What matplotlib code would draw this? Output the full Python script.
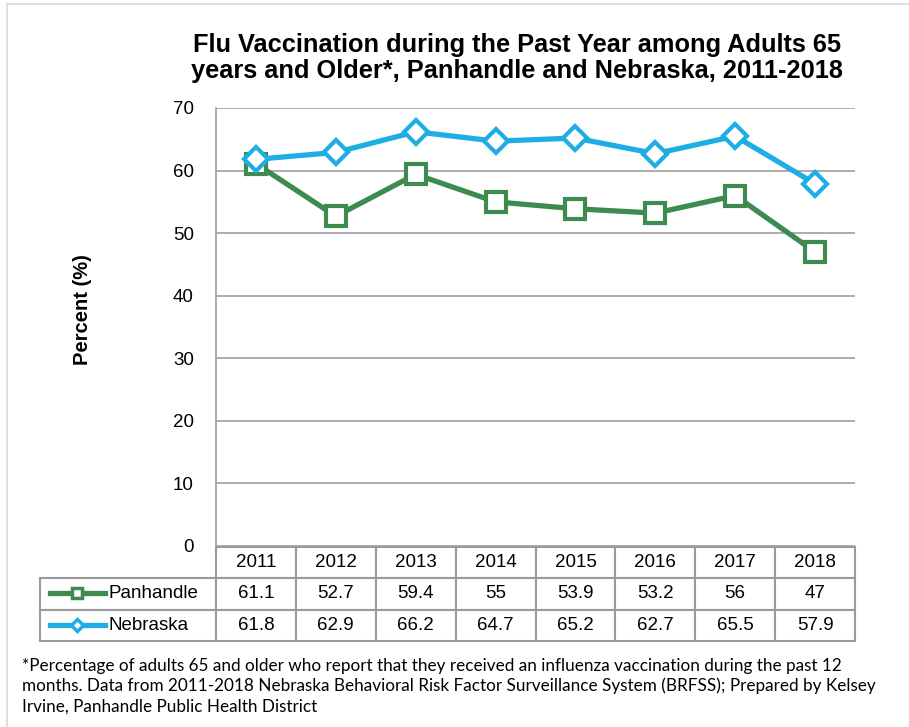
import matplotlib
matplotlib.use("Agg")
import matplotlib.pyplot as plt
from matplotlib.lines import Line2D
from matplotlib.patches import Rectangle

years = ["2011", "2012", "2013", "2014", "2015", "2016", "2017", "2018"]
panhandle = [61.1, 52.7, 59.4, 55, 53.9, 53.2, 56, 47]
nebraska = [61.8, 62.9, 66.2, 64.7, 65.2, 62.7, 65.5, 57.9]
series_names = ["Panhandle", "Nebraska"]
yticks = [0, 10, 20, 30, 40, 50, 60, 70]

title = "Flu Vaccination during the Past Year among Adults 65\nyears and Older*, Panhandle and Nebraska, 2011-2018"
footnote = ("*Percentage of adults 65 and older who report that they received an influenza vaccination during the past 12\n"
            "months. Data from 2011-2018 Nebraska Behavioral Risk Factor Surveillance System (BRFSS); Prepared by Kelsey\n"
            "Irvine, Panhandle Public Health District")

GREEN = "#3D8B4F"
BLUE = "#1EAEE4"
GRID = "#A6A6A6"

plt.rcParams['font.family'] = ['Liberation Sans', 'DejaVu Sans']

W, H = 909, 727
fig = plt.figure(figsize=(W / 100, H / 100), dpi=100)

def fx(px):
    return px / W

def fy(py):
    return 1 - py / H

# outer frame
fig.patches.append(Rectangle((fx(7), fy(740)), fx(930), fy(4) - fy(740), transform=fig.transFigure,
                             fill=False, edgecolor="#D9D9D9", linewidth=1.2))

ax_l, ax_r, ax_t, ax_b = 216, 855, 108, 546
ax = fig.add_axes([fx(ax_l), fy(ax_b), fx(ax_r - ax_l), fy(ax_t) - fy(ax_b)])

x = list(range(len(years)))
ax.plot(x, panhandle, color=GREEN, lw=3.8, marker="s", markersize=14, markerfacecolor="white",
        markeredgecolor=GREEN, markeredgewidth=3, zorder=3, solid_joinstyle="round")
ax.plot(x, nebraska, color=BLUE, lw=3.8, marker="D", markersize=12, markerfacecolor="white",
        markeredgecolor=BLUE, markeredgewidth=3, zorder=4, solid_joinstyle="round")

ax.set_xlim(-0.5, len(years) - 0.5)
ax.set_ylim(0, 70)
ax.set_yticks(yticks)
ax.set_yticklabels([str(v) for v in yticks], fontsize=13.5)
ax.tick_params(axis="y", length=0, pad=16)
ax.set_xticks([])
ax.grid(axis="y", color=GRID, linewidth=1.3)
ax.set_axisbelow(True)
for s in ["top", "right", "bottom"]:
    ax.spines[s].set_visible(False)
ax.spines["left"].set_color(GRID)
ax.spines["left"].set_linewidth(1.3)

fig.text(fx(83), fy(310), "Percent (%)", rotation=90, ha="center", va="center",
         fontsize=14.5, fontweight="bold")
fig.text(fx(517), fy(58), title, ha="center", va="center", fontsize=18.3, fontweight="bold",
         linespacing=1.08)

# data table
tab_l, tab_t, tab_b = 40, 547, 641
axw = ax_r - ax_l
axh = ax_b - ax_t
cell_text = [[""] + years,
             [""] + [f"{v:g}" for v in panhandle],
             [""] + [f"{v:g}" for v in nebraska]]
first_w = (ax_l - tab_l)
col_w = axw / len(years)
tot_w = ax_r - tab_l
colWidths = [first_w / tot_w] + [col_w / tot_w] * len(years)
tbl = ax.table(cellText=cell_text, colWidths=colWidths, cellLoc="center",
               bbox=[(tab_l - ax_l) / axw, (ax_b - tab_b) / axh, tot_w / axw, (tab_b - tab_t) / axh])
tbl.auto_set_font_size(False)
for (r, c), cell in tbl.get_celld().items():
    cell.set_edgecolor("#9A9A9A")
    cell.set_linewidth(1.5)
    cell.get_text().set_fontsize(13.5)
    if r == 0 and c == 0:
        cell.visible_edges = ""

# legend keys in the table
row_centers = [577 + 16, 609 + 16]
colors = [GREEN, BLUE]
markers = ["s", "D"]
for name, yc, col, mk in zip(series_names, row_centers, colors, markers):
    fig.lines.append(Line2D([fx(50), fx(105)], [fy(yc), fy(yc)], transform=fig.transFigure,
                            color=col, lw=3.8, marker=None))
    fig.lines.append(Line2D([fx(77)], [fy(yc)], transform=fig.transFigure, color=col,
                            marker=mk, markersize=7 if mk == "s" else 6, markerfacecolor="white",
                            markeredgecolor=col, markeredgewidth=2.5))
    fig.text(fx(108), fy(yc + 1), name, ha="left", va="center", fontsize=13.5)

fig.text(fx(22), fy(686), footnote, ha="left", va="center", fontsize=12.3,
         family=["Lato", "DejaVu Sans"], linespacing=1.3)

fig.savefig("out.png", dpi=100)
